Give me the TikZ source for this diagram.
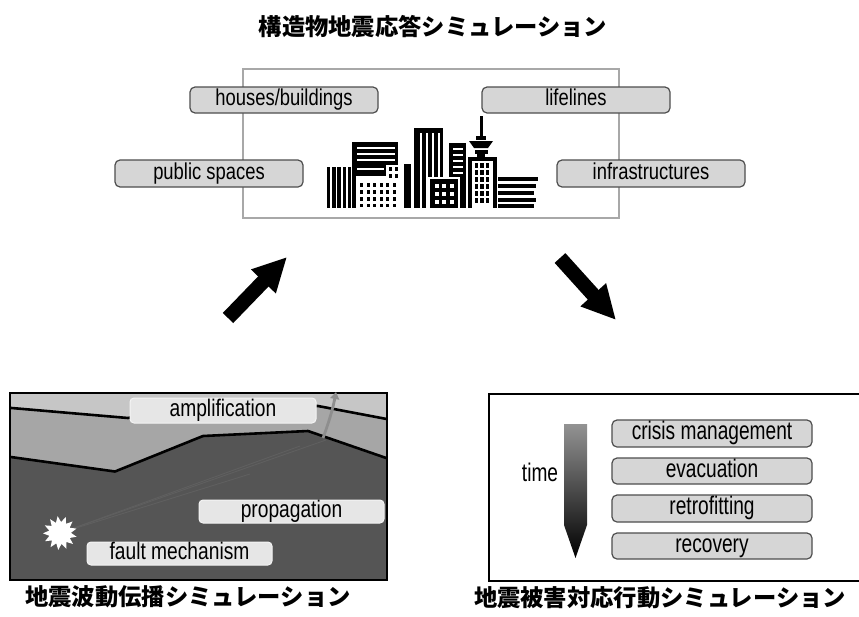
\documentclass[tikz,border=0pt]{standalone}
\usepackage{fontspec}
\setmainfont{Liberation Sans}
\newfontfamily\tagsans[FakeStretch=0.80]{Liberation Sans}
\newfontfamily\panelsans[FakeStretch=0.80]{Liberation Sans}
\newfontfamily\listsans[FakeStretch=0.75]{Liberation Sans}
\newfontfamily\jpfont{Noto Sans CJK JP}
\usetikzlibrary{arrows.meta,shapes.geometric}

\definecolor{tagfill}{HTML}{D6D6D6}
\definecolor{tagedge}{HTML}{4E4E4E}
\definecolor{framegray}{HTML}{A8A8A8}
\definecolor{toplayer}{HTML}{C6C6C6}
\definecolor{midlayer}{HTML}{A6A6A6}
\definecolor{deeplayer}{HTML}{555555}
\definecolor{softfill}{HTML}{E6E6E6}
\definecolor{softedge}{HTML}{F4F4F4}
\definecolor{raygray}{HTML}{5F5F5F}
\definecolor{ampgray}{HTML}{8E8E8E}
\definecolor{timetop}{HTML}{939393}

\tikzset{
  tagfont/.style={font=\tagsans\fontsize{23}{24}\selectfont},
  panelfont/.style={font=\panelsans\fontsize{24}{25}\selectfont},
  listfont/.style={font=\listsans\fontsize{25.5}{26}\selectfont},
  boxbase/.style={draw=tagedge, fill=tagfill, line width=1.2pt,
    rounded corners=5pt, inner sep=0pt},
  tagbox/.style={boxbase, tagfont, text height=16.5pt, text depth=4.8pt},
  listbox/.style={boxbase, listfont, text height=18.2pt, text depth=5.3pt},
  softbox/.style={panelfont, draw=softedge, fill=softfill, line width=1pt,
    rounded corners=4pt, inner sep=0pt, text height=17.2pt, text depth=5pt},
  panelframe/.style={draw=black, line width=2.3pt, inner sep=0pt, anchor=north west},
  heading/.style={font=\jpfont\bfseries\fontsize{23.3}{24}\selectfont, inner sep=0pt},
  layerline/.style={line width=2.6pt, line join=round},
  bigarrow/.style={line width=14.5pt, -{Triangle[length=34pt,width=32pt]}},
}

\begin{document}
\begin{tikzpicture}[x=1pt,y=-1pt]
\useasboundingbox (0,0) rectangle (859,616);
\clip (0,0) rectangle (859,616);
\fill[white] (0,0) rectangle (859,616);

% ---------- structural response ----------
\node[heading] (topTitle) at (433,27) {構造物地震応答シミュレーション};
\node[draw=framegray, line width=1.8pt, minimum width=376pt, minimum height=149pt,
  inner sep=0pt, anchor=north west] (cityFrame) at (242,68) {};

% skyline
\begin{scope}
  \foreach \x in {327,332.2,337.4,342.6,347.8} \fill (\x,167) rectangle ++(3.4,41);
  \fill (352,142) rectangle (398,165);
  \fill (352,165) rectangle (386,176);
  \foreach \y in {147,153,159,167.5} \fill[white] (357,\y) rectangle (384,\y+2.2);
  \foreach \y in {147,153,159} \fill[white] (384,\y) rectangle (395,\y+2.2);
  \fill (352,176) rectangle (356,208);
  \foreach \x in {360,366.5,373,379.5,386,392.5}
    \foreach \y in {183,190,197,203.5} \fill (\x,\y) rectangle ++(3,3.6);
  \foreach \x in {389,395}
    \foreach \y in {167,174} \fill (\x,\y) rectangle ++(3,4);
  \fill (404,164) rectangle (411,208);
  \fill (414,128) rectangle (443,208);
  \foreach \x in {419.5,425.5,431.5,437.5} \fill[white] (\x,133) rectangle ++(2,75);
  \fill (449,143) rectangle (466,208);
  \foreach \y in {148,154,160,166,172} \fill[white] (452.5,\y) rectangle (463,\y+2);
  \fill[white] (428,177) rectangle (460,208);
  \fill (430,179) rectangle (458,208);
  \foreach \x in {434.5,442,449.5}
    \foreach \y in {184,192,200} \fill[white] (\x,\y) rectangle ++(4,4);
  \fill (479.5,116) rectangle (482.5,140);
  \fill (476,136) rectangle (486,140);
  \fill (469,141) -- (493,141) -- (488,148) -- (474,148) -- cycle;
  \fill (474.5,149.5) rectangle (487.5,153.5);
  \fill (477,153) rectangle (485,157);
  \fill (468,157) rectangle (497,208);
  \fill[white] (472,161) rectangle (493,208);
  \foreach \x in {474.5,480,485.5}
    \foreach \y in {163,170,177,184,191,198} \fill (\x,\y) rectangle ++(3.5,4.5);
  \foreach \y/\w in {177/40,184/38,191/36,198/38,204.2/36} \fill (498,\y) rectangle ++(\w,3.8);
\end{scope}

\node[tagbox, minimum width=188pt, minimum height=26pt] (houses) at (284,100) {houses/buildings};
\node[tagbox, minimum width=188pt, minimum height=26pt] (lifelines) at (576,100) {lifelines};
\node[tagbox, minimum width=188pt, minimum height=27pt] (publicSpaces) at (209,173.5) {public spaces};
\node[tagbox, minimum width=188pt, minimum height=27pt] (infra) at (651,173.5) {infrastructures};

% ---------- transition arrows ----------
\coordinate (riseTail) at (228,318);
\coordinate (riseTip) at (287,257);
\coordinate (fallTail) at (560,258);
\coordinate (fallTip) at (616,320);
\draw[bigarrow] (riseTail) -- (riseTip);
\draw[bigarrow] (fallTail) -- (fallTip);

% ---------- wave propagation ----------
\begin{scope}
  \clip (9,392) rectangle (386,579);
  \fill[toplayer] (9,392) rectangle (386,579);
  \fill[midlayer] (0,407) -- (128,418) -- (200,404) -- (318,406) -- (392,420)
    -- (392,600) -- (0,600) -- cycle;
  \fill[deeplayer] (0,455.5) -- (115,471.5) -- (203,436) -- (308,431) -- (392,460)
    -- (392,600) -- (0,600) -- cycle;
  \draw[layerline] (0,407) -- (128,418) -- (200,404) -- (318,406) -- (392,420);
  \draw[layerline] (0,455.5) -- (115,471.5) -- (203,436) -- (308,431) -- (392,460);
  \coordinate (rayA) at (300,446);
  \coordinate (rayB) at (326,440);
  \coordinate (rayC) at (250,474);
  \foreach \r in {rayA,rayB,rayC} \draw[raygray, line width=0.9pt] (60,533) -- (\r);
\end{scope}
\node[panelframe, minimum width=377pt, minimum height=187pt] (wavePanel) at (9,392) {};

\node[star, star points=13, star point ratio=1.55, fill=white, minimum size=34pt,
  inner sep=0pt, rotate=8] (burst) at (60,533) {};
\coordinate (ampFoot) at (323,438);
\coordinate (ampHead) at (336,392);
\draw[ampgray, line width=2.8pt, -{Triangle[length=7pt,width=9pt]}]
  (ampFoot) .. controls (329,422) and (333,408) .. (ampHead);

\node[softbox, minimum width=186pt, minimum height=25pt] (amplification) at (223,410.5) {amplification};
\node[softbox, minimum width=185pt, minimum height=23pt] (propagation) at (291.5,511.5) {propagation};
\node[softbox, minimum width=185pt, minimum height=23pt] (faultMech) at (179.5,553.5) {fault mechanism};

\node[heading] (waveTitle) at (188,597) {地震波動伝播シミュレーション};

% ---------- damage response ----------
\node[panelframe, minimum width=400pt, minimum height=187pt] (responsePanel) at (488,393) {};
\shade[top color=timetop, bottom color=black]
  (564,424) -- (587,424) -- (587,525) -- (575.5,558) -- (564,525) -- cycle;
\node[listfont, inner sep=0pt] (timeLabel) at (540,472) {time};

\node[listbox, minimum width=200pt, minimum height=27pt] (crisis) at (712,433.5) {crisis management};
\node[listbox, minimum width=200pt, minimum height=26pt] (evacuation) at (712,471) {evacuation};
\node[listbox, minimum width=200pt, minimum height=27pt] (retrofit) at (712,508.5) {retrofitting};
\node[listbox, minimum width=200pt, minimum height=26pt] (recovery) at (712,546) {recovery};

\node[heading] (responseTitle) at (660,598) {地震被害対応行動シミュレーション};
\end{tikzpicture}
\end{document}
